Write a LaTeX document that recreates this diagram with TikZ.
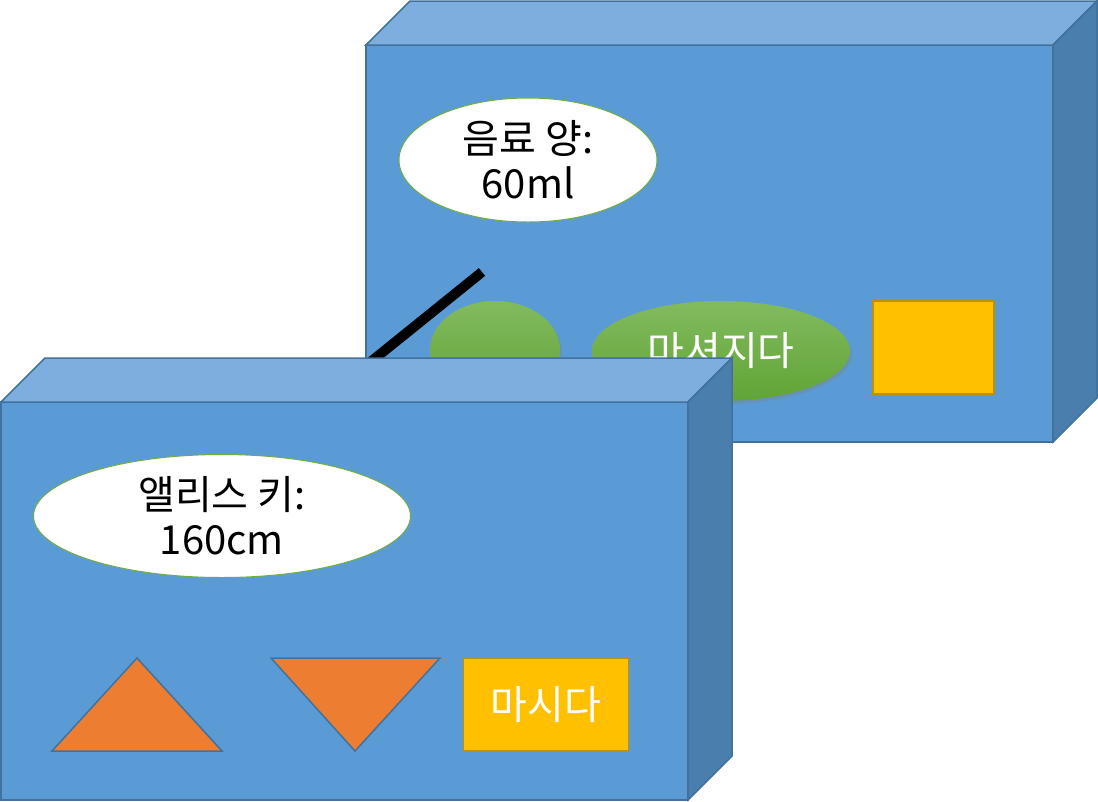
\documentclass[tikz,border=0pt]{standalone}
\usepackage{fontspec}
\setmainfont{Noto Sans CJK KR}
\usetikzlibrary{shapes.geometric,shadows}

\definecolor{facecolor}{RGB}{91,155,213}
\definecolor{topcolor}{RGB}{125,174,222}
\definecolor{sidecolor}{RGB}{73,126,173}
\definecolor{edgecolor}{RGB}{65,113,156}
\definecolor{orangecolor}{RGB}{237,125,49}
\definecolor{goldcolor}{RGB}{255,192,0}
\definecolor{goldedge}{RGB}{191,144,0}
\definecolor{greenlight}{RGB}{130,187,95}
\definecolor{greendark}{RGB}{97,164,54}
\definecolor{greenedge}{RGB}{112,173,71}

\tikzset{
  boxface/.style={fill=facecolor,draw=edgecolor,line width=1.5pt,line join=miter},
  boxtop/.style={boxface,fill=topcolor},
  boxside/.style={boxface,fill=sidecolor},
  bigtext/.style={font=\fontsize{40}{45}\selectfont},
  infobubble/.style={ellipse,fill=white,draw=greenedge,line width=1pt,inner sep=0pt,align=center,bigtext},
  greenbubble/.style={ellipse,inner sep=0pt,top color=greenlight,bottom color=greendark,
    drop shadow={opacity=0.35,shadow xshift=2pt,shadow yshift=-3pt},text=white,bigtext},
  goldbox/.style={rectangle,fill=goldcolor,draw=goldedge,line width=1.5pt,inner sep=0pt,text=white,bigtext},
  wedge/.style={fill=orangecolor,draw=edgecolor,line width=1.5pt,line join=miter}
}

\begin{document}
\begin{tikzpicture}[x=1pt,y=-1pt]
\useasboundingbox (0,0) rectangle (1098,801);
% back box
\draw[boxface] (366,45)--(1053,45)--(1053,442)--(366,442)--cycle;
\draw[boxtop] (366,45)--(410,1)--(1097,1)--(1053,45)--cycle;
\draw[boxside] (1053,45)--(1097,1)--(1097,398)--(1053,442)--cycle;
\node[infobubble,minimum width=258pt,minimum height=124pt] (amount) at (528,160) {음료 양:\\60ml};
\coordinate (stickTop) at (482,272);
\coordinate (stickEnd) at (368,364);
\draw[line width=10pt,black] (stickTop)--(stickEnd);
\node[greenbubble,minimum width=130pt,minimum height=98pt] (cup) at (495,350) {};
\node[greenbubble,minimum width=258pt,minimum height=100pt] (drunk) at (721,351) {마셔지다};
\node[goldbox,minimum width=121pt,minimum height=93pt] (slot) at (933.5,347.5) {};
% front box
\draw[boxface] (1,402)--(688,402)--(688,800)--(1,800)--cycle;
\draw[boxtop] (1,402)--(45,358)--(732,358)--(688,402)--cycle;
\draw[boxside] (688,402)--(732,358)--(732,756)--(688,800)--cycle;
\node[infobubble,minimum width=377pt,minimum height=123pt] (height) at (222,516) {앨리스 키:\\160cm};
\draw[wedge] (137,658)--(222,751)--(52,751)--cycle;
\draw[wedge] (271,658)--(440,658)--(355,751)--cycle;
\node[goldbox,minimum width=165pt,minimum height=93pt] (drink) at (546,704.5) {마시다};
\end{tikzpicture}
\end{document}
